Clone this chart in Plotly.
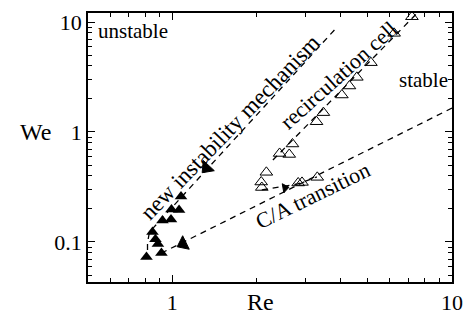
import math
import plotly.graph_objects as go

# ---- data ----
filled_re = [1.075, 0.994, 1.058, 0.923, 0.990, 0.850, 0.871, 0.889, 0.915, 0.809]
filled_we = [0.259, 0.197, 0.195, 0.157, 0.160, 0.123, 0.106, 0.096, 0.0794, 0.0731]

arrow_re = [1.327, 1.093, 2.53]
arrow_we = [0.471, 0.096, 0.31]
arrow_angle = [-137, -116, 80]
arrow_size = [13, 13, 8]

open_re = [7.19, 6.21, 5.13, 4.57, 4.30, 4.04, 3.47, 3.28, 2.69, 2.42, 2.62, 2.17, 2.08, 2.09, 2.82, 2.91, 3.30]
open_we = [11.17, 7.89, 4.27, 3.14, 2.62, 2.17, 1.50, 1.24, 0.778, 0.638, 0.625, 0.430, 0.351, 0.313, 0.344, 0.348, 0.387]

recirc_re = [2.29, 7.51]
recirc_we = [0.556, 12.07]

newinst_re = [3.80, 0.829, 0.816, 0.816]
newinst_we = [8.46, 0.123, 0.098, 0.080]

ca_re = [10.0, 0.90]
ca_we = [1.65, 0.0776]

short_re = [2.09, 2.81, 3.29]
short_we = [0.297, 0.337, 0.39]

x_ticks = [1, 10]
y_ticks = [0.1, 1, 10]
x_minor = [0.6, 0.7, 0.8, 0.9, 2, 3, 4, 5, 6, 7, 8, 9]
y_minor = [0.05, 0.06, 0.07, 0.08, 0.09, 0.2, 0.3, 0.4, 0.5, 0.6, 0.7, 0.8, 0.9,
           2, 3, 4, 5, 6, 7, 8, 9]

FONT = "Liberation Serif, Times New Roman, serif"
dash = "6px,5px"

fig = go.Figure()
for xs, ys in [(recirc_re, recirc_we), (newinst_re, newinst_we), (ca_re, ca_we), (short_re, short_we)]:
    fig.add_trace(go.Scatter(x=xs, y=ys, mode="lines",
                             line=dict(color="black", width=1.3, dash=dash),
                             showlegend=False, hoverinfo="skip"))

fig.add_trace(go.Scatter(x=filled_re, y=filled_we, mode="markers",
                         marker=dict(symbol="triangle-up", size=11, color="black"),
                         showlegend=False, cliponaxis=False))
fig.add_trace(go.Scatter(x=arrow_re, y=arrow_we, mode="markers",
                         marker=dict(symbol="triangle-up", size=arrow_size, color="black",
                                     opacity=1, angle=arrow_angle,
                                     line=dict(width=1, color="black")),
                         showlegend=False, cliponaxis=False))
fig.add_trace(go.Scatter(x=open_re, y=open_we, mode="markers",
                         marker=dict(symbol="triangle-up-open", size=11, color="black",
                                     line=dict(width=1, color="black")),
                         showlegend=False, cliponaxis=False))

L = math.log10

def txt(text, x, y, angle=0, anchor="center", size=21):
    fig.add_annotation(text=text, x=L(x), y=L(y), xref="x", yref="y", showarrow=False,
                       textangle=angle, xanchor=anchor, yanchor="middle",
                       font=dict(family=FONT, size=size, color="black"))

txt("unstable", 0.535, 8.28, anchor="left", size=21)
txt("stable", 7.89, 2.97, size=21)
txt("new instability mechanism", 1.61, 1.10, angle=-46, size=23)
txt("recirculation cell", 3.93, 3.23, angle=-42, size=22)
txt("C/A transition", 3.18, 0.262, angle=-26, size=22)

fig.add_annotation(text="We", x=-0.1456, y=0.5576, xref="paper", yref="paper",
                   showarrow=False, xanchor="center", yanchor="middle",
                   font=dict(family=FONT, size=24, color="black"))
fig.add_annotation(text="Re", x=0.475, y=-0.0743, xref="paper", yref="paper",
                   showarrow=False, xanchor="center", yanchor="middle",
                   font=dict(family=FONT, size=24, color="black"))

axis_common = dict(type="log", showgrid=False, zeroline=False, showline=True,
                   linecolor="black", linewidth=1.5, mirror="ticks", automargin=False,
                   ticks="inside", ticklen=7, tickwidth=1.2, tickcolor="black",
                   tickfont=dict(family=FONT, size=22, color="black"))

fig.update_xaxes(range=[L(0.5), 1.0], tickmode="array", tickvals=x_ticks,
                 ticktext=[str(v) for v in x_ticks],
                 minor=dict(ticks="inside", ticklen=4, tickwidth=1, tickcolor="black",
                            tickmode="array", tickvals=x_minor),
                 **axis_common)
fig.update_yaxes(range=[-1.364, 1.082], tickmode="array", tickvals=y_ticks,
                 ticktext=["0.1", "1", "10"],
                 minor=dict(ticks="inside", ticklen=4, tickwidth=1, tickcolor="black",
                            tickmode="array", tickvals=y_minor),
                 **axis_common)

fig.update_layout(width=468, height=320, margin=dict(l=88, r=16, t=13, b=38),
                  paper_bgcolor="white", plot_bgcolor="white",
                  font=dict(family=FONT, color="black"))

fig.write_html("out.html")
